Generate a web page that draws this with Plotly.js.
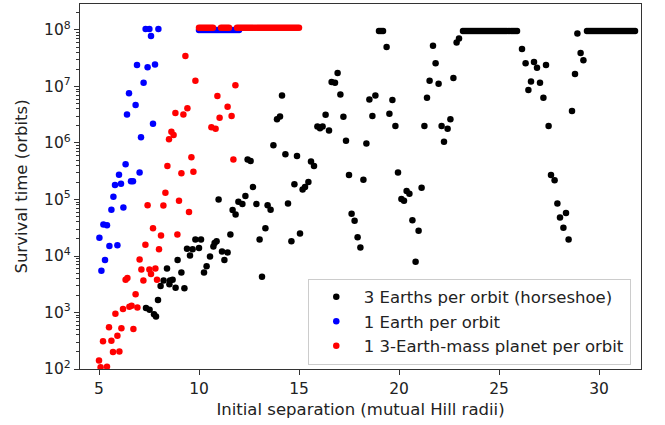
<!DOCTYPE html>
<html>
<head>
<meta charset="utf-8">
<script src="https://cdn.plot.ly/plotly-3.0.1.min.js"></script>
<style>html,body{margin:0;padding:0;background:#fff;}#chart{width:665px;height:425px;}</style>
</head>
<body>
<div id="chart"></div>
<script>
// ---- Data ----
const seriesNames = ["3 Earths per orbit (horseshoe)", "1 Earth per orbit", "1 3-Earth-mass planet per orbit"];

// 3 Earths per orbit (horseshoe) - black
const blackX = [
  19.0, 19.1, 19.2,
  23.2, 23.3, 23.4, 23.5, 23.6, 23.7, 23.8, 23.9, 24.0, 24.1, 24.2, 24.3, 24.4, 24.5, 24.6, 24.7, 24.8, 24.9, 25.0, 25.1, 25.2, 25.3, 25.4, 25.5, 25.6, 25.7, 25.8, 25.9,
  29.4, 29.5, 29.6, 29.7, 29.8, 29.9, 30.0, 30.1, 30.2, 30.3, 30.4, 30.5, 30.6, 30.7, 30.8, 30.9, 31.0, 31.1, 31.2, 31.3, 31.4, 31.5, 31.6, 31.7, 31.8,
  19.38, 21.7, 22.88, 23.0, 16.93, 16.63, 16.8, 21.83, 21.53, 21.98, 22.72, 17.07, 18.52, 18.82, 19.67, 21.4,
  16.33, 17.22, 18.67, 19.52, 19.82, 21.27, 22.13, 22.43, 22.57, 15.92, 16.05, 16.18, 16.5, 17.35, 18.37, 22.25,
  15.6, 15.75, 17.5, 18.22, 19.95, 15.47, 15.3, 15.18, 21.13, 20.38, 20.52, 20.12, 20.25, 17.63, 17.78, 20.67,
  20.98, 17.93, 18.07, 20.83, 15.05,
  14.15, 13.9, 14.05, 13.72, 14.32, 14.9, 12.43, 12.58,
  10.98, 12.7, 14.77, 11.68, 11.83, 11.97, 12.17, 12.32, 12.87, 13.43, 13.58, 14.45, 13.32, 13.03, 14.62, 11.57,
  9.82, 10.1, 10.78, 10.88, 10.72, 9.4, 9.68, 10.0, 9.55, 11.15, 11.43, 11.27, 10.55, 8.93, 10.38, 10.25,
  8.4, 9.12, 13.15, 8.23, 8.55, 8.68, 8.08, 8.52, 8.83, 9.27, 7.95, 7.35, 7.53, 7.75, 7.85,
  26.15, 26.33, 26.75, 26.9, 27.35, 26.6, 27.05, 26.47, 27.22, 27.48, 27.6, 27.78, 27.92, 28.05, 28.35, 28.22,
  28.48, 28.65, 28.8, 29.08, 29.22, 28.92
];
const blackY = [
  9.6e7, 9.6e7, 9.6e7,
  9.6e7, 9.6e7, 9.6e7, 9.6e7, 9.6e7, 9.6e7, 9.6e7, 9.6e7, 9.6e7, 9.6e7, 9.6e7, 9.6e7, 9.6e7, 9.6e7, 9.6e7, 9.6e7, 9.6e7, 9.6e7, 9.6e7, 9.6e7, 9.6e7, 9.6e7, 9.6e7, 9.6e7, 9.6e7, 9.6e7, 9.6e7, 9.6e7,
  9.6e7, 9.6e7, 9.6e7, 9.6e7, 9.6e7, 9.6e7, 9.6e7, 9.6e7, 9.6e7, 9.6e7, 9.6e7, 9.6e7, 9.6e7, 9.6e7, 9.6e7, 9.6e7, 9.6e7, 9.6e7, 9.6e7, 9.6e7, 9.6e7, 9.6e7, 9.6e7, 9.6e7, 9.6e7,
  5.0e7, 5.25e7, 6.0e7, 7.1e7, 1.74e7, 1.2e7, 1.17e7, 2.57e7, 1.26e7, 1.12e7, 1.41e7, 7.2e6, 5.9e6, 6.9e6, 5.75e6, 6.3e6,
  3.16e6, 2.9e6, 3.0e6, 3.3e6, 2.0e6, 2.0e6, 2.0e6, 1.78e6, 2.63e6, 1.95e6, 1.82e6, 1.95e6, 1.66e6, 1.1e6, 9.8e5, 1.05e6,
  4.7e5, 3.9e5, 2.7e5, 2.24e5, 3.0e5, 2.04e5, 1.66e5, 1.51e5, 1.62e5, 1.41e5, 1.26e5, 1.02e5, 9.5e4, 5.6e4, 4.2e4, 4.3e4,
  2.8e4, 2.14e4, 1.41e4, 7.9e3, 2.5e4,
  6.9e6, 2.63e6, 2.95e6, 9.1e5, 6.3e5, 5.9e5, 5.1e5, 4.8e5,
  1.0e5, 1.66e5, 1.86e5, 6.5e4, 5.4e4, 9.1e4, 8.3e4, 1.15e5, 8.3e4, 7.9e4, 6.6e4, 8.5e4, 3.1e4, 1.95e4, 1.82e4, 2.4e4,
  1.95e4, 1.95e4, 1.7e4, 1.82e4, 1.48e4, 1.35e4, 1.32e4, 1.38e4, 1.02e4, 1.2e4, 1.15e4, 8.5e3, 9.8e3, 8.5e3, 6.6e3, 5.1e3,
  6.0e3, 5.1e3, 4.3e3, 3.7e3, 3.7e3, 3.8e3, 2.95e3, 3.16e3, 2.75e3, 2.7e3, 1.66e3, 1.2e3, 1.12e3, 933, 851,
  4.6e7, 2.57e7, 2.7e7, 2.14e7, 2.4e7, 1.23e7, 1.17e7, 8.7e6, 6.3e6, 2.0e6, 2.7e5, 2.2e5, 8.5e4, 4.8e4, 5.75e4, 3.16e4,
  1.95e4, 3.7e6, 1.66e7, 3.9e7, 2.9e7, 8.7e7
];

// 1 Earth per orbit - blue
const blueX = [
  7.33, 7.52, 7.97, 7.6, 6.9, 7.43, 7.8, 7.23, 6.5, 6.83, 6.4, 7.7, 7.1, 6.33, 6.0, 7.03,
  5.8, 6.1, 6.6, 6.7, 5.72, 5.62, 6.22, 5.22, 5.4, 5.02, 5.52, 5.92, 5.3, 5.12,
  10.0, 10.1, 10.2, 10.3, 10.4, 10.5, 10.6, 10.7, 10.8, 10.9, 11.0, 11.1, 11.2, 11.3, 11.4, 11.5, 11.6, 11.7, 11.8, 11.9, 12.0
];
const blueY = [
  1.04e8, 1.04e8, 1.04e8, 7.8e7, 2.4e7, 2.2e7, 2.45e7, 1.17e7, 7.6e6, 4.7e6, 3.2e6, 2.2e6, 1.26e6, 4.2e5, 2.75e5, 3.0e5,
  1.8e5, 1.9e5, 2.1e5, 2.1e5, 1.12e5, 6.6e4, 7.2e4, 3.6e4, 3.5e4, 2.1e4, 1.5e4, 1.55e4, 8.5e3, 5.5e3,
  1.0e8, 1.0e8, 1.0e8, 1.0e8, 1.0e8, 1.0e8, 1.0e8, 1.0e8, 1.0e8, 1.0e8, 1.0e8, 1.0e8, 1.0e8, 1.0e8, 1.0e8, 1.0e8, 1.0e8, 1.0e8, 1.0e8, 1.0e8, 1.0e8
];

// 1 3-Earth-mass planet per orbit - red
const redX = [
  9.32, 9.82, 11.82, 10.92, 11.43, 11.63, 11.03, 8.82, 9.22, 9.42, 10.62, 10.83, 8.62, 8.73, 8.5, 9.62,
  8.42, 9.12, 9.72, 11.72, 8.32, 7.43, 8.22, 9.0, 9.5, 7.7, 8.1, 8.92, 7.32, 8.0, 7.03, 7.12,
  7.52, 7.6, 7.82, 6.33, 6.42, 7.22, 7.9, 6.83, 6.2, 6.52, 6.63, 6.92, 5.82, 5.5, 6.12, 6.72,
  5.92, 5.2, 5.62, 5.7, 6.02, 5.0, 5.08, 5.4,
  10.0, 10.1, 10.2, 10.3, 10.4, 10.5, 10.6, 10.7,
  11.1, 11.2, 11.3, 11.4, 11.5,
  11.9, 12.0, 12.1, 12.2, 12.3, 12.4, 12.5, 12.6, 12.7, 12.8, 12.9, 13.0, 13.1, 13.2, 13.3, 13.4,
  13.5, 13.6, 13.7, 13.8, 13.9, 14.0, 14.1, 14.2, 14.3, 14.4, 14.5, 14.6, 14.7, 14.8, 14.9, 15.0
];
const redY = [
  3.47e7, 1.26e7, 1.05e7, 6.8e6, 4.4e6, 3.0e6, 2.8e6, 3.4e6, 3.2e6, 4.1e6, 1.9e6, 1.78e6, 1.58e6, 1.38e6, 1.17e6, 5.6e5,
  3.9e5, 2.9e5, 3.1e5, 5.1e5, 1.32e5, 7.9e4, 7.8e4, 9.5e4, 6.0e4, 3.1e4, 2.3e4, 2.4e4, 1.58e4, 1.32e4, 8.7e3, 5.75e3,
  5.75e3, 4.8e3, 6.0e3, 3.8e3, 4.1e3, 3.7e3, 3.8e3, 2.1e3, 1.15e3, 1.26e3, 1.32e3, 1.23e3, 955, 550, 525, 513,
  389, 309, 316, 200, 204, 141, 107, 110,
  1.1e8, 1.1e8, 1.1e8, 1.1e8, 1.1e8, 1.1e8, 1.1e8, 1.1e8,
  1.1e8, 1.1e8, 1.1e8, 1.1e8, 1.1e8,
  1.1e8, 1.1e8, 1.1e8, 1.1e8, 1.1e8, 1.1e8, 1.1e8, 1.1e8, 1.1e8, 1.1e8, 1.1e8, 1.1e8, 1.1e8, 1.1e8, 1.1e8, 1.1e8,
  1.1e8, 1.1e8, 1.1e8, 1.1e8, 1.1e8, 1.1e8, 1.1e8, 1.1e8, 1.1e8, 1.1e8, 1.1e8, 1.1e8, 1.1e8, 1.1e8, 1.1e8, 1.1e8
];

const xTickVals = [5, 10, 15, 20, 25, 30];
const yTickVals = [1e2, 1e3, 1e4, 1e5, 1e6, 1e7, 1e8];
const yTickText = ["10<sup>2</sup>", "10<sup>3</sup>", "10<sup>4</sup>", "10<sup>5</sup>", "10<sup>6</sup>", "10<sup>7</sup>", "10<sup>8</sup>"];

// ---- Plot ----
const font = "DejaVu Sans, sans-serif";
function mk(x, y, name, color) {
  return {x: x, y: y, name: name, type: "scatter", mode: "markers",
          marker: {color: color, size: 6.5, line: {width: 0}}, hoverinfo: "x+y"};
}
const data = [
  mk(blackX, blackY, seriesNames[0], "#000000"),
  mk(blueX, blueY, seriesNames[1], "#0000ff"),
  mk(redX, redY, seriesNames[2], "#ff0000")
];
const axisCommon = {
  showgrid: false, zeroline: false, showline: true, linecolor: "#333", linewidth: 1.2, mirror: true,
  ticks: "outside", ticklen: 5, tickwidth: 1, tickcolor: "#333",
  tickfont: {family: font, size: 15.5, color: "#222"}
};
const layout = {
  width: 665, height: 425,
  margin: {l: 80, r: 24, t: 4, b: 56},
  paper_bgcolor: "#fff", plot_bgcolor: "#fff",
  font: {family: font, color: "#222"},
  showlegend: true,
  xaxis: Object.assign({}, axisCommon, {
    range: [4.05, 32.1], tickmode: "array", tickvals: xTickVals,
    title: {text: "Initial separation (mutual Hill radii)", font: {family: font, size: 16.5, color: "#222"}, standoff: 6}
  }),
  yaxis: Object.assign({}, axisCommon, {
    type: "log", range: [2, 8.46], tickmode: "array", tickvals: yTickVals, ticktext: yTickText,
    minor: {ticks: "outside", ticklen: 3, tickcolor: "#333", dtick: "D1", showgrid: false},
    title: {text: "Survival time (orbits)", font: {family: font, size: 16.5, color: "#222"}, standoff: 12}
  }),
  legend: {
    x: 0.406, y: 0.012, xanchor: "left", yanchor: "bottom",
    bgcolor: "rgba(255,255,255,0.8)", bordercolor: "#cccccc", borderwidth: 1,
    font: {family: font, size: 16.5, color: "#222"}, itemwidth: 45, tracegroupgap: 0
  }
};
Plotly.newPlot("chart", data, layout, {displayModeBar: false, staticPlot: true});
</script>
</body>
</html>
